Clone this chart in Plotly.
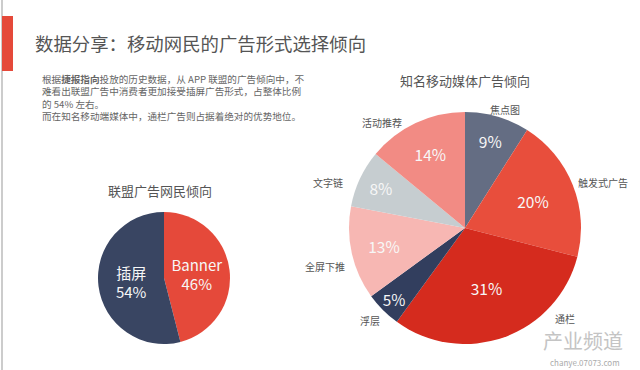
import plotly.graph_objects as go

# ---- data ----
left_labels = ["Banner", "插屏"]
left_values = [46, 54]
left_colors = ["#E5493A", "#394562"]

right_labels = ["焦点图", "触发式广告", "通栏", "浮层", "全屏下推", "文字链", "活动推荐"]
right_values = [9, 20, 31, 5, 13, 8, 14]
right_colors = ["#646D83", "#E84E3C", "#D52B1E", "#323E5E", "#F7B7B3", "#C6CDD0", "#F28B84"]

title_text = "数据分享：移动网民的广告形式选择倾向"
left_title = "联盟广告网民倾向"
right_title = "知名移动媒体广告倾向"
para_lines = [
    "根据<b>捷报指向</b>投放的历史数据，从 APP 联盟的广告倾向中，不",
    "难看出联盟广告中消费者更加接受插屏广告形式，占整体比例",
    "的 54% 左右。",
    "而在知名移动端媒体中，通栏广告则占据着绝对的优势地位。",
]

# ---- layout (pixel positions of outside slice names) ----
name_pos = {
    "焦点图": (505, 109),
    "触发式广告": (603, 182),
    "通栏": (565, 318),
    "浮层": (370, 320),
    "全屏下推": (325, 266),
    "文字链": (328, 182),
    "活动推荐": (382, 123),
}

W, H = 640, 370
FONT = "Noto Sans CJK SC"

def px_x(x):
    return x / W

def px_y(y):
    return 1 - y / H

fig = go.Figure()

# left pie
fig.add_trace(go.Pie(
    labels=left_labels, values=left_values, sort=False, direction="clockwise",
    rotation=0,
    marker=dict(colors=left_colors, line=dict(width=0)),
    texttemplate="%{label}<br>%{value}%", textposition="inside",
    insidetextorientation="horizontal",
    textfont=dict(size=15, color="#F7F7F7", family=FONT),
    domain=dict(x=[px_x(98), px_x(230)], y=[px_y(344), px_y(212)]),
    showlegend=False, hoverinfo="label+percent",
))

# right pie
dom_r = dict(x=[px_x(349), px_x(581)], y=[px_y(344), px_y(112)])
fig.add_trace(go.Pie(
    labels=right_labels, values=right_values, sort=False, direction="clockwise",
    rotation=0,
    marker=dict(colors=right_colors, line=dict(width=0)),
    texttemplate="%{value}%", textposition="inside",
    insidetextorientation="horizontal",
    textfont=dict(size=15.5, color="#F7F7F7", family=FONT),
    domain=dom_r, showlegend=False, hoverinfo="label+percent",
))

ann = []
ann.append(dict(text=title_text, x=px_x(33), y=px_y(43), xref="paper", yref="paper",
                xanchor="left", yanchor="middle", showarrow=False,
                font=dict(size=18.4, color="#555555", family=FONT)))
ann.append(dict(text="<br>".join(para_lines), x=px_x(40), y=px_y(70), xref="paper", yref="paper",
                xanchor="left", yanchor="top", align="left", showarrow=False,
                font=dict(size=9.6, color="#666666", family=FONT)))
ann.append(dict(text=left_title, x=px_x(160), y=px_y(190), xref="paper", yref="paper",
                xanchor="center", yanchor="middle", showarrow=False,
                font=dict(size=13, color="#555555", family=FONT)))
ann.append(dict(text=right_title, x=px_x(465), y=px_y(80), xref="paper", yref="paper",
                xanchor="center", yanchor="middle", showarrow=False,
                font=dict(size=13, color="#555555", family=FONT)))
for lab in right_labels:
    x, y = name_pos[lab]
    ann.append(dict(text=lab, x=px_x(x), y=px_y(y), xref="paper", yref="paper",
                    xanchor="center", yanchor="middle", showarrow=False,
                    font=dict(size=10, color="#555555", family=FONT)))
# watermark
ann.append(dict(text="产业频道", x=px_x(583), y=px_y(340), xref="paper", yref="paper",
                xanchor="center", yanchor="middle", showarrow=False,
                font=dict(size=20, color="#C4C4C4", family=FONT)))
ann.append(dict(text="chanye.07073.com", x=px_x(585), y=px_y(362), xref="paper", yref="paper",
                xanchor="center", yanchor="middle", showarrow=False,
                font=dict(size=8, color="#AAAAAA", family=FONT)))

shapes = [
    dict(type="line", xref="paper", yref="paper", x0=px_x(2), x1=px_x(2), y0=0, y1=1,
         line=dict(color="#BBBBBB", width=1.5)),
    dict(type="rect", xref="paper", yref="paper", x0=px_x(2), x1=px_x(13),
         y0=px_y(71), y1=px_y(16), fillcolor="#E5493A", line=dict(width=0)),
]

fig.update_layout(
    width=W, height=H, margin=dict(l=0, r=0, t=0, b=0),
    paper_bgcolor="white", plot_bgcolor="white",
    annotations=ann, shapes=shapes, font=dict(family=FONT),
)

fig.write_html("out.html", config={"displayModeBar": False},
               post_script="document.body.style.margin='0';")
